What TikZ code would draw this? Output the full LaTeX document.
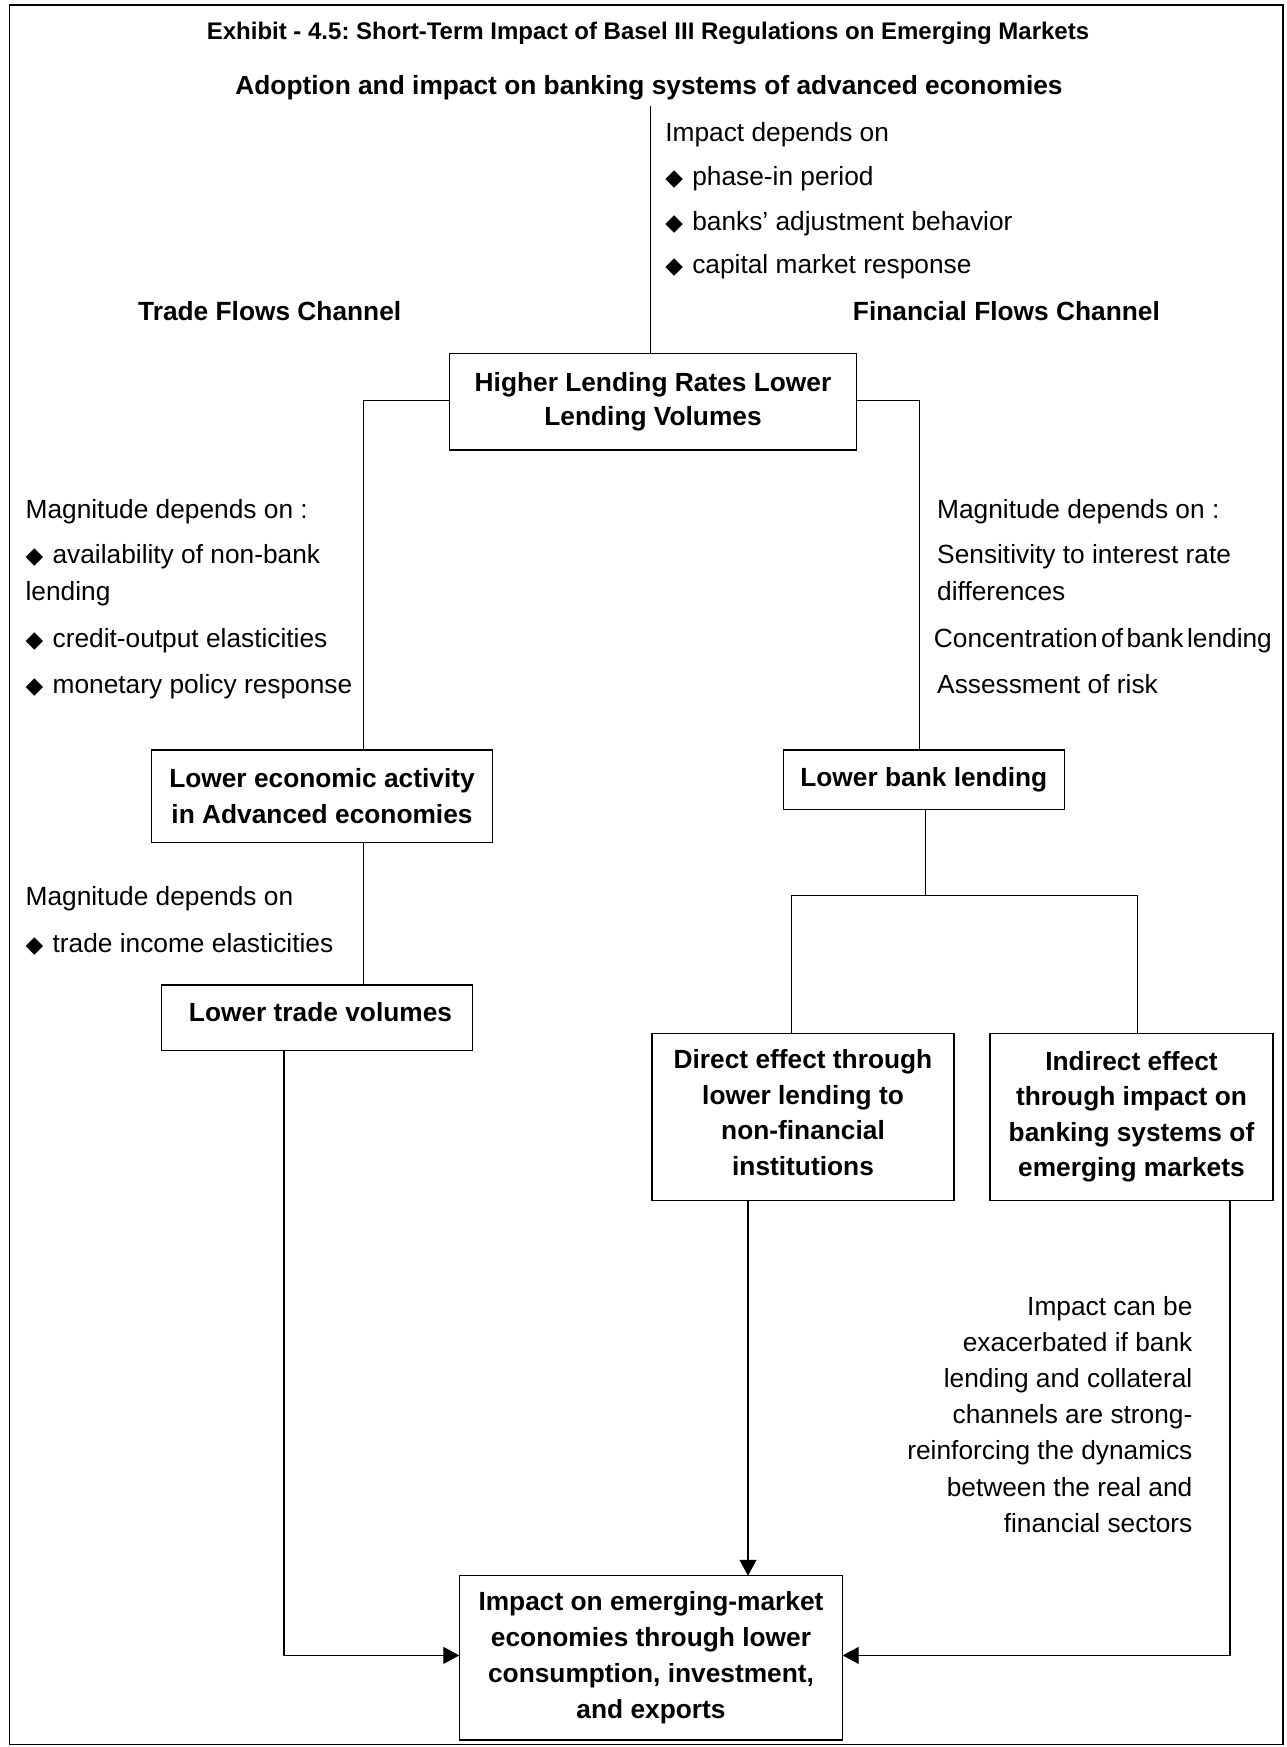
\documentclass[tikz,border=0pt]{standalone}
\usepackage{fontspec}
\setmainfont{Liberation Sans}
\newfontfamily\symfont{DejaVu Sans}
\usetikzlibrary{arrows.meta}
\frenchspacing

% bullet used in the "depends on" lists
\newcommand{\bul}{\makebox[27pt][l]{\symfont\fontsize{23}{23}\selectfont ◆}}

\begin{document}
\begin{tikzpicture}[x=1pt,y=-1pt,
  every node/.style={inner sep=0pt, outer sep=0pt},
  body/.style={font=\fontsize{26.3}{35}\selectfont},
  txt/.style={body, anchor=base west},
  rtxt/.style={body, anchor=base east},
  head/.style={font=\bfseries\fontsize{26.3}{35}\selectfont, anchor=base},
  box/.style={draw, line width=1.3pt, align=center,
    font=\bfseries\fontsize{26.3}{35.5}\selectfont},
  link/.style={line width=1.1pt},
  arr/.style={link, -{Triangle[length=16pt,width=17pt]}}
]
\useasboundingbox (0,0) rectangle (1286,1747);

% outer frame
\draw[line width=1.6pt] (9.3,5.3) rectangle (1283,1744.5);

% headings
\node[font=\bfseries\fontsize{24}{30}\selectfont, anchor=base] (title) at (648,39.5)
  {Exhibit - 4.5: Short-Term Impact of Basel III Regulations on Emerging Markets};
\node[head] (adopt) at (649,95)
  {Adoption and impact on banking systems of advanced economies};

% impact list
\node[txt] (dep0) at (665.3,141.6) {Impact depends on};
\node[txt] (dep1) at (665.3,185.6) {\bul phase-in period};
\node[txt] (dep2) at (665.3,230) {\bul banks’ adjustment behavior};
\node[txt] (dep3) at (665.3,273.8) {\bul capital market response};

% channel headings
\node[head] (trade) at (269.7,320.5) {Trade Flows Channel};
\node[head] (fin) at (1006.4,320.5) {Financial Flows Channel};

% boxes
\node[box, font=\bfseries\fontsize{26.3}{34}\selectfont,
  minimum width=407.4pt, minimum height=96.7pt] (hl) at (653,401.7)
  {Higher Lending Rates Lower\\Lending Volumes};
\node[box, minimum width=340.6pt, minimum height=92.3pt] (lea) at (322,796.2)
  {Lower economic activity\\in Advanced economies};
\node[box, minimum width=281pt, minimum height=59.3pt] (lbl) at (923.8,779.7)
  {Lower bank lending};
\node[box, minimum width=310.6pt, minimum height=65.7pt, text depth=11.6pt] (ltv) at (317,1017.9)
  {\hspace{7pt}Lower trade volumes};
\node[box, minimum width=302pt, minimum height=167pt] (dir) at (803,1116.8)
  {Direct effect through\\lower lending to\\non-financial\\institutions\rule[-8.8pt]{0pt}{0pt}};
\node[box, minimum width=283pt, minimum height=167pt] (ind) at (1131.5,1116.8)
  {Indirect effect\\through impact on\\banking systems of\\emerging markets};
\node[box, font=\bfseries\fontsize{26.3}{36}\selectfont,
  minimum width=383.4pt, minimum height=164.3pt] (imp) at (651,1657.9)
  {Impact on emerging-market\\economies through lower\\consumption, investment,\\and exports};

% trade channel notes
\node[txt] (tm0) at (25.6,518.5) {Magnitude depends on :};
\node[txt] (tm1) at (25.6,563.5) {\bul availability of non-bank};
\node[txt] (tm2) at (25.6,600.5) {lending};
\node[txt] (tm3) at (25.6,647) {\bul credit-output elasticities};
\node[txt] (tm4) at (25.6,693) {\bul monetary policy response};
\node[txt] (tt0) at (25.6,905.5) {Magnitude depends on};
\node[txt] (tt1) at (25.6,952) {\bul trade income elasticities};

% financial channel notes
\node[txt] (fm0) at (937.2,518.5) {Magnitude depends on :};
\node[txt] (fm1) at (937.2,563.5) {Sensitivity to interest rate};
\node[txt] (fm2) at (937.2,600.5) {differences};
\node[txt] (fm3) at (933.9,647)
  {Concentration\hspace{3.5pt}of\hspace{3.5pt}bank\hspace{3.5pt}lending};
\node[txt] (fm4) at (937.2,693) {Assessment of risk};

% note on the indirect effect
\node[rtxt] (ex0) at (1192.4,1315) {Impact can be};
\node[rtxt] (ex1) at (1192.4,1351.2) {exacerbated if bank};
\node[rtxt] (ex2) at (1192.4,1387.4) {lending and collateral};
\node[rtxt] (ex3) at (1192.4,1423.6) {channels are strong-};
\node[rtxt] (ex4) at (1192.4,1459.8) {reinforcing the dynamics};
\node[rtxt] (ex5) at (1192.4,1496) {between the real and};
\node[rtxt] (ex6) at (1192.4,1532.2) {financial sectors};

% connector anchors
\coordinate (tp) at (650.7,106);
\coordinate (lx) at (363.5,0);
\coordinate (rx) at (919.3,0);
\coordinate (bx) at (284,0);
\coordinate (jn) at (925.7,895.7);
\coordinate (dtop) at (791.3,895.7);
\coordinate (itop) at (1137.5,895.7);
\coordinate (dx) at (748,0);
\coordinate (ix) at (1230,0);

% connectors
\draw[link] (tp) -- (tp |- hl.north);
\draw[link] ([yshift=1pt]hl.west) -| (lx |- lea.north);
\draw[link] ([yshift=1pt]hl.east) -| (rx |- lbl.north);
\draw[link] (lx |- lea.south) -- (lx |- ltv.north);
\draw[link] (jn |- lbl.south) -- (jn);
\draw[link] (dtop) -- (itop);
\draw[link] (dtop) -- (dtop |- dir.north);
\draw[link] (itop) -- (itop |- ind.north);
\draw[arr] (bx |- ltv.south) |- ([yshift=2.5pt]imp.west);
\draw[arr] (dx |- dir.south) -- (dx |- imp.north);
\draw[arr] (ix |- ind.south) |- ([yshift=2.5pt]imp.east);
\end{tikzpicture}
\end{document}
